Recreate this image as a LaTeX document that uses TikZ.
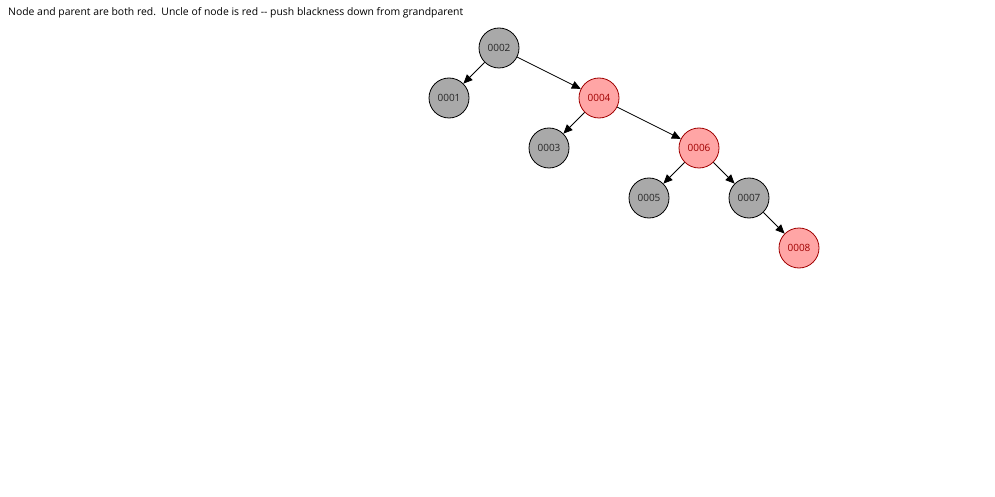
\documentclass[tikz,border=0pt]{standalone}
\usepackage{fontspec}
\setmainfont{Open Sans}
\usetikzlibrary{arrows.meta}
\definecolor{blacknode}{HTML}{A9A9A9}
\definecolor{rednode}{HTML}{FFA5A5}
\definecolor{redline}{HTML}{A00000}
\begin{document}
\begin{tikzpicture}[x=1pt,y=-1pt,
  rbnode/.style={circle,minimum size=40pt,inner sep=0pt,line width=0.8pt,font=\fontsize{10}{12}\selectfont},
  blk/.style={rbnode,draw=black,fill=blacknode,text=black!85},
  red/.style={rbnode,draw=redline,fill=rednode,text=redline},
  edge/.style={line width=0.8pt,-{Triangle[length=9pt,width=8pt]}}]
\useasboundingbox (0,0) rectangle (995,497);
\node[anchor=base west,inner sep=0pt,font=\fontsize{10.4}{12}\selectfont] (caption) at (8,16) {Node and parent are both red.\ \ Uncle of node is red -{}- push blackness down from grandparent};
\node[blk] (n2) at (499,48) {0002};
\node[blk] (n1) at (449,98) {0001};
\node[red] (n4) at (599,98) {0004};
\node[blk] (n3) at (549,148) {0003};
\node[red] (n6) at (699,148) {0006};
\node[blk] (n5) at (649,198) {0005};
\node[blk] (n7) at (749,198) {0007};
\node[red] (n8) at (799,248) {0008};
\draw[edge] (n2) -- (n1);
\draw[edge] (n2) -- (n4);
\draw[edge] (n4) -- (n3);
\draw[edge] (n4) -- (n6);
\draw[edge] (n6) -- (n5);
\draw[edge] (n6) -- (n7);
\draw[edge] (n7) -- (n8);
\end{tikzpicture}
\end{document}
